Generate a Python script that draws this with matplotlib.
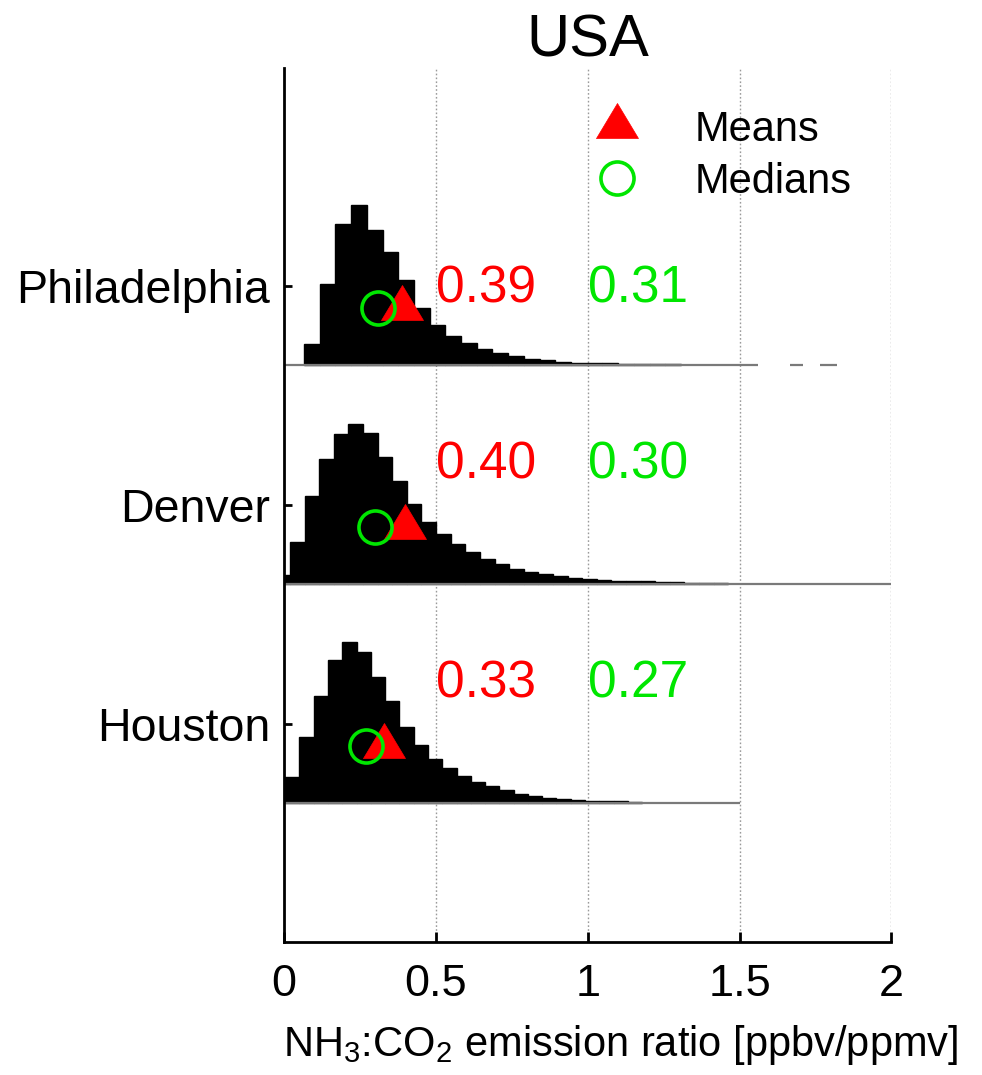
import matplotlib
matplotlib.use('Agg')
import matplotlib.pyplot as plt
from matplotlib.lines import Line2D

plt.rcParams['font.family'] = ['Liberation Sans', 'DejaVu Sans']
plt.rcParams['mathtext.default'] = 'regular'

# ---------------- data ----------------
cities = ['Philadelphia', 'Denver', 'Houston']
means = [0.39, 0.40, 0.33]
medians = [0.31, 0.30, 0.27]

# histogram bins (left edge of first bin, bin width, bin heights)
phl_start, phl_width = 0.066, 0.0517
phl_counts = [21.7, 81, 141.7, 160, 135.7, 113, 85.7, 57.7, 40, 29.3, 22.3,
              16.7, 12.3, 9, 6.7, 5, 3.7, 2.7, 2.3, 2.0, 1.8, 1.3, 1.2, 1.0]

den_start, den_width = -0.0283, 0.0481
den_counts = [9, 42.3, 88, 125.7, 150.7, 160.7, 151.3, 127.3, 103.3, 80, 62.3,
              50.7, 40.7, 32.3, 25.7, 20, 15.7, 12.3, 10, 8, 6.3, 5, 4.3, 3.7,
              3.2, 2.8, 2.4, 2.0, 1.7, 1.5, 1.3]

hou_start, hou_width = 0.004, 0.047
hou_counts = [26, 66, 106.7, 143.3, 161, 151, 126, 102, 76, 57.7, 44.3, 35.3,
              27, 21, 16.7, 12.7, 9.3, 7.3, 5.3, 4, 3, 2, 1.8, 1.6, 1.3]

# sparse tails drawn as thin baseline segments
phl_tail = [(0.0, 1.56), (1.667, 1.71), (1.766, 1.822)]
den_tail = [(0.0, 2.0)]
hou_tail = [(0.0, 1.5)]

xticks = [0, 0.5, 1, 1.5, 2]
xticklabels = ['0', '0.5', '1', '1.5', '2']

# ---------------- layout ----------------
S = 218.8                      # vertical spacing between panels
offsets = [2 * S, S, 0.0]
tick_off = 79.0
marker_off = 57.5
text_off = [63.0, 106.0, 106.0]

hists = [(phl_start, phl_width, phl_counts),
         (den_start, den_width, den_counts),
         (hou_start, hou_width, hou_counts)]
tails = [phl_tail, den_tail, hou_tail]

RED = '#ff0000'
GREEN = '#00e600'
tri_marker = [(-21, -12), (21, -12), (0, 23), (-21, -12)]
tri_ms = 33.1
circ_ms = 23.8

fig = plt.figure(figsize=(9.82, 10.75), dpi=100)
ax = fig.add_axes([0.2892, 0.1237, 0.6186, 0.813])

for xv in [0.5, 1.0, 1.5, 2.0]:
    ax.axvline(xv, color='#9a9a9a', lw=1.0, ls=(0, (1.2, 1.6)), zorder=1)

for i, ((st, w, cnt), off) in enumerate(zip(hists, offsets)):
    lefts = [st + k * w for k in range(len(cnt))]
    ax.bar(lefts, cnt, width=w, align='edge', bottom=off, color='black',
           edgecolor='black', linewidth=1.0, zorder=2)
    for a, b in tails[i]:
        ax.plot([a, b], [off, off], color='#7a7a7a', lw=1.6,
                solid_capstyle='butt', zorder=2.5)
    ax.plot(means[i], off + marker_off, ls='none', marker=tri_marker,
            ms=tri_ms, mfc=RED, mec=RED, mew=0.5, zorder=3)
    ax.plot(medians[i], off + marker_off, ls='none', marker='o',
            ms=circ_ms, mfc='none', mec=GREEN, mew=2.6, zorder=4)
    ax.text(0.5, off + text_off[i], f'{means[i]:.2f}', color=RED,
            fontsize=37, ha='left', va='baseline', zorder=5)
    ax.text(1.0, off + text_off[i], f'{medians[i]:.2f}', color=GREEN,
            fontsize=37, ha='left', va='baseline', zorder=5)

ax.set_xlim(0, 2)
ax.set_ylim(-139, 735)
ax.set_xticks(xticks)
ax.set_xticklabels(xticklabels)
ax.set_yticks([o + tick_off for o in offsets])
ax.set_yticklabels(cities)

for side in ['top', 'right']:
    ax.spines[side].set_visible(False)
for side in ['left', 'bottom']:
    ax.spines[side].set_linewidth(2.0)
ax.tick_params(axis='both', direction='in', width=2.0)
ax.tick_params(axis='x', length=7, pad=16, labelsize=32.5)
ax.tick_params(axis='y', length=6, pad=10, labelsize=33.5)

ax.set_title('USA', fontsize=43, pad=1)
ax.set_xlabel('NH$_3$:CO$_2$ emission ratio [ppbv/ppmv]', fontsize=30)
ax.xaxis.set_label_coords(0.5547, -0.093)

handles = [Line2D([], [], ls='none', marker=tri_marker, ms=tri_ms, mfc=RED,
                  mec=RED, mew=0.5),
           Line2D([], [], ls='none', marker='o', ms=circ_ms, mfc='none',
                  mec=GREEN, mew=2.6)]
ax.legend(handles, ['Means', 'Medians'], loc='upper left',
          bbox_to_anchor=(0.5136, 0.952), frameon=False, fontsize=30,
          handlelength=1.0, handletextpad=1.37, labelspacing=0.29,
          borderpad=0, borderaxespad=0)

fig.savefig('out.png', dpi=100)
